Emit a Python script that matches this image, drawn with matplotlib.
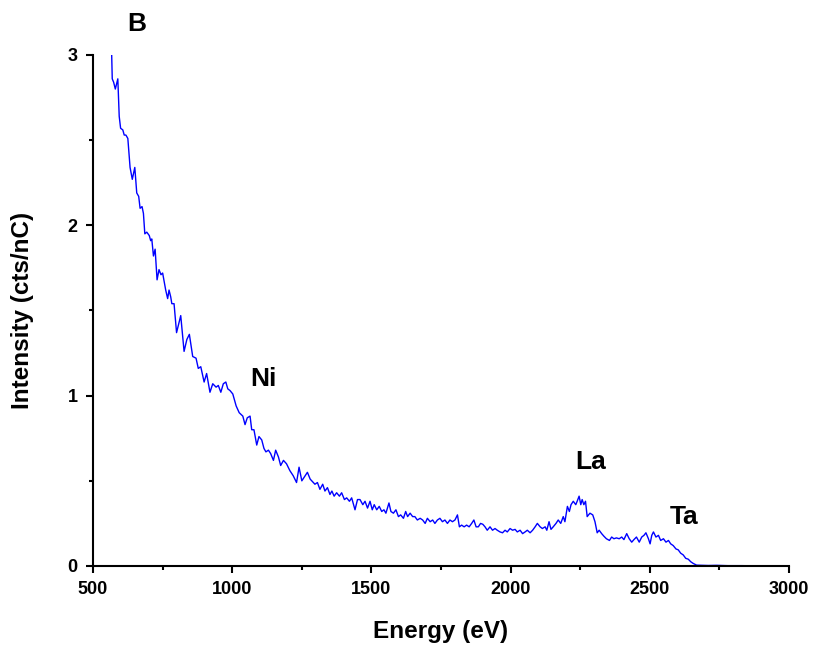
import numpy as np
import matplotlib.pyplot as plt
from matplotlib.ticker import MultipleLocator

# spectrum (energy in eV, intensity in cts/nC)
energy = [
    567, 569, 574, 580, 589, 594, 599, 607, 612, 618, 625, 633, 641, 650, 657,
    664, 669, 676, 681, 686, 693, 702, 707, 711, 717, 723, 730, 737, 744, 750,
    761, 768, 773, 779, 783, 791, 800, 815, 827, 837, 846, 858, 870, 878, 887,
    899, 908, 920, 930, 942, 950, 959, 968, 977, 984, 992, 1002, 1014, 1025,
    1038, 1046, 1054, 1064, 1070, 1078, 1088, 1096, 1106, 1114, 1121, 1130,
    1138, 1148, 1156, 1166, 1174, 1184, 1195, 1207, 1219, 1231, 1240, 1250,
    1258, 1270, 1280, 1297, 1306, 1315, 1325, 1333, 1342, 1351, 1358, 1366,
    1375, 1385, 1393, 1403, 1411, 1421, 1429, 1441, 1450, 1459, 1469, 1477,
    1486, 1495, 1503, 1510, 1519, 1528, 1537, 1545, 1552, 1563, 1570, 1579,
    1588, 1597, 1605, 1615, 1623, 1630, 1639, 1648, 1656, 1665, 1675, 1684,
    1693, 1701, 1711, 1720, 1728, 1737, 1746, 1755, 1764, 1773, 1782, 1791,
    1800, 1809, 1816, 1824, 1833, 1842, 1851, 1860, 1868, 1876, 1884, 1892,
    1900, 1908, 1916, 1926, 1935, 1944, 1952, 1962, 1971, 1980, 1988, 1998,
    2007, 2016, 2024, 2034, 2043, 2052, 2060, 2070, 2079, 2088, 2096, 2106,
    2114, 2124, 2130, 2138, 2145, 2153, 2163, 2171, 2180, 2189, 2195, 2204,
    2211, 2217, 2225, 2234, 2239, 2246, 2252, 2257, 2263, 2269, 2275, 2285,
    2295, 2303, 2311, 2318, 2327, 2335, 2344, 2355, 2363, 2371, 2380, 2390,
    2399, 2407, 2417, 2426, 2435, 2443, 2452, 2462, 2471, 2479, 2486, 2495,
    2501, 2507, 2513, 2522, 2531, 2539, 2549, 2558, 2567, 2575, 2584, 2594,
    2602, 2611, 2620, 2629, 2638, 2647, 2656, 2668, 2686, 2710, 2740, 2780,
    2830, 2880, 2940, 3000,
]
intensity = [
    3.00, 2.86, 2.84, 2.80, 2.86, 2.64, 2.57, 2.56, 2.53, 2.53, 2.51, 2.34,
    2.27, 2.34, 2.19, 2.17, 2.10, 2.11, 2.07, 1.95, 1.96, 1.94, 1.91, 1.92,
    1.82, 1.86, 1.68, 1.74, 1.71, 1.72, 1.62, 1.57, 1.62, 1.58, 1.54, 1.54,
    1.37, 1.47, 1.26, 1.33, 1.36, 1.23, 1.22, 1.16, 1.17, 1.08, 1.13, 1.02,
    1.07, 1.05, 1.06, 1.02, 1.07, 1.08, 1.04, 1.03, 1.01, 0.94, 0.90, 0.88,
    0.83, 0.87, 0.88, 0.80, 0.80, 0.71, 0.76, 0.74, 0.69, 0.67, 0.68, 0.66,
    0.62, 0.68, 0.64, 0.59, 0.62, 0.60, 0.56, 0.53, 0.49, 0.58, 0.50, 0.52,
    0.55, 0.51, 0.48, 0.49, 0.45, 0.48, 0.44, 0.46, 0.42, 0.44, 0.41, 0.43,
    0.41, 0.43, 0.39, 0.40, 0.38, 0.40, 0.33, 0.39, 0.39, 0.36, 0.38, 0.34,
    0.38, 0.33, 0.36, 0.33, 0.35, 0.32, 0.33, 0.31, 0.37, 0.32, 0.31, 0.33,
    0.29, 0.30, 0.28, 0.32, 0.29, 0.31, 0.29, 0.29, 0.27, 0.28, 0.27, 0.25,
    0.28, 0.26, 0.27, 0.25, 0.27, 0.28, 0.26, 0.27, 0.25, 0.27, 0.26, 0.27,
    0.30, 0.23, 0.24, 0.23, 0.24, 0.23, 0.25, 0.27, 0.23, 0.23, 0.25, 0.245,
    0.23, 0.21, 0.23, 0.21, 0.22, 0.21, 0.20, 0.195, 0.21, 0.20, 0.22, 0.21,
    0.215, 0.20, 0.21, 0.19, 0.20, 0.21, 0.195, 0.21, 0.23, 0.25, 0.23, 0.22,
    0.23, 0.21, 0.26, 0.215, 0.23, 0.25, 0.27, 0.25, 0.29, 0.26, 0.35, 0.32,
    0.36, 0.38, 0.36, 0.38, 0.41, 0.36, 0.39, 0.36, 0.38, 0.29, 0.31, 0.30,
    0.26, 0.195, 0.21, 0.19, 0.175, 0.16, 0.15, 0.17, 0.16, 0.165, 0.16, 0.17,
    0.155, 0.19, 0.16, 0.14, 0.155, 0.17, 0.14, 0.17, 0.18, 0.195, 0.16, 0.13,
    0.18, 0.20, 0.17, 0.18, 0.15, 0.16, 0.14, 0.15, 0.13, 0.12, 0.10, 0.095,
    0.075, 0.065, 0.045, 0.04, 0.025, 0.015, 0.005, 0.004, 0.003, 0.004,
    0.002, 0.002, 0.001, 0.001, 0.001,
]

# peak labels
labels = ['B', 'Ni', 'La', 'Ta']
label_x = [658, 1111, 2289, 2623]
label_y = [3.18, 1.10, 0.61, 0.29]

plt.rcParams['font.family'] = ['Liberation Sans', 'DejaVu Sans']
plt.rcParams['font.weight'] = 'bold'

fig = plt.figure(figsize=(8.14, 6.47), dpi=100)
ax = fig.add_axes([0.1143, 0.1252, 0.855, 0.7898])

ax.plot(energy, intensity, color='#0000ff', linewidth=1.0)

for txt, lx, ly in zip(labels, label_x, label_y):
    ax.text(lx, ly, txt, fontsize=19, fontweight='bold', ha='center', va='center',
            clip_on=False)

ax.set_xlim(500, 3000)
ax.set_ylim(0, 3)
ax.xaxis.set_major_locator(MultipleLocator(500))
ax.xaxis.set_minor_locator(MultipleLocator(250))
ax.yaxis.set_major_locator(MultipleLocator(1))
ax.yaxis.set_minor_locator(MultipleLocator(0.5))

for side in ['top', 'right']:
    ax.spines[side].set_visible(False)
for side in ['left', 'bottom']:
    ax.spines[side].set_linewidth(1.5)

ax.tick_params(which='major', direction='out', length=5, width=1.5,
               labelsize=13, pad=6)
ax.tick_params(which='minor', direction='out', length=3, width=1.5)
for lab in ax.get_xticklabels() + ax.get_yticklabels():
    lab.set_fontweight('bold')

ax.set_xlabel('Energy (eV)', fontsize=17.5, fontweight='bold', labelpad=16)
ax.set_ylabel('Intensity (cts/nC)', fontsize=17.5, fontweight='bold', labelpad=24)

fig.savefig('out.png', dpi=100)
